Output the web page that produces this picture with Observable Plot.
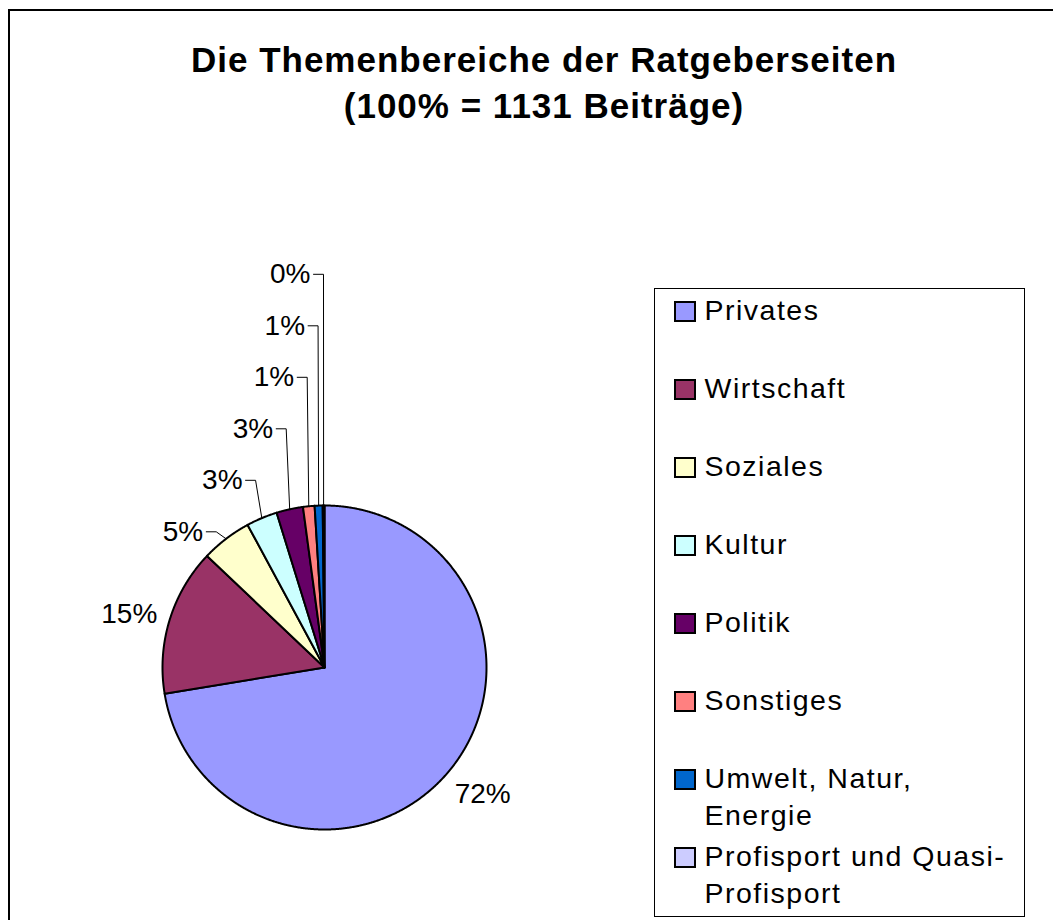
<!DOCTYPE html>
<html><head><meta charset="utf-8">
<script src="https://cdn.jsdelivr.net/npm/d3@7"></script>
<script src="https://cdn.jsdelivr.net/npm/@observablehq/plot@0.6"></script>
<style>
body{margin:0;background:#fff;font-family:"Liberation Sans",Arial,sans-serif;}
#page{position:relative;width:1053px;height:920px;overflow:hidden;background:#fff;}
#frame{position:absolute;left:8px;top:9px;width:1050px;height:920px;border-top:2px solid #000;border-left:2px solid #000;}
#title{position:absolute;left:44px;top:37px;width:1000px;text-align:center;font-weight:bold;font-size:35px;line-height:46px;letter-spacing:1px;color:#000;}
#chart{position:absolute;left:0;top:200px;}
#legend{position:absolute;left:654px;top:288px;width:371px;height:629px;box-sizing:border-box;border:1.5px solid #000;background:#fff;}
.item{position:absolute;left:18.5px;width:345px;font-size:28.5px;line-height:37px;letter-spacing:1.5px;color:#000;}
.sw{position:absolute;left:0;top:9px;width:22px;height:21px;box-sizing:border-box;border:2px solid #000;}
.lab{margin-left:31px;width:315px;}
</style>
</head><body>
<div id="page">
  <div id="frame"></div>
  <div id="title"></div>
  <div id="chart"></div>
  <div id="legend"></div>
</div>
<script>
const categories = ["Privates","Wirtschaft","Soziales","Kultur","Politik","Sonstiges","Umwelt, Natur, Energie","Profisport und Quasi-Profisport"];
const counts = [819,166,57,35,30,13,9,2];
const colors = ["#9999FF","#993366","#FFFFCC","#CCFFFF","#660066","#FF8080","#0066CC","#CCCCFF"];
const total = 1131;
const titleLines = ["Die Themenbereiche der Ratgeberseiten", "(100% = " + total + " Beiträge)"];

document.getElementById("title").innerHTML = titleLines.join("<br>");

// geometry (pixels)
const R = 162, cx = 324, cy = 467, W = 640, H = 700;

const arcs = d3.pie().sort(null).value(d => d)(counts);

// slice polygons in unit-radius coordinates
const slicePts = [];
arcs.forEach((a, i) => {
  const name = categories[i];
  slicePts.push({x: 0, y: 0, name});
  const n = Math.max(2, Math.ceil((a.endAngle - a.startAngle) / 0.004) + 1);
  for (let k = 0; k < n; k++) {
    const t = a.startAngle + (a.endAngle - a.startAngle) * k / (n - 1);
    slicePts.push({x: Math.sin(t), y: -Math.cos(t), name});
  }
  slicePts.push({x: 0, y: 0, name});
});

// labels and leader lines
const bigLabels = [], smallLabels = [], leaders = [];
let prevY = null;
arcs.forEach((a, i) => {
  const m = (a.startAngle + a.endAngle) / 2;
  const ax = Math.sin(m), ay = -Math.cos(m);
  const share = counts[i] / total;
  const text = Math.round(share * 100) + "%";
  if (share >= 0.1) {
    const mm = m - 0.03;
    bigLabels.push({x: 1.25 * Math.sin(mm), y: -1.25 * Math.cos(mm), text});
  } else {
    let ly = ay - 7 / R;
    if (prevY !== null) ly = Math.min(ly, prevY - 51.5 / R);
    prevY = ly;
    const ex = 1.1 * ax;
    leaders.push({x: ex - 10 / R, y: ly, id: i}, {x: ex, y: ly, id: i}, {x: ax, y: ay, id: i});
    smallLabels.push({x: ex - 13 / R, y: ly, text});
  }
});

const chart = Plot.plot({
  width: W, height: H,
  margin: 0,
  style: {fontFamily: "'Liberation Sans', Arial, sans-serif", background: "transparent"},
  x: {domain: [-cx / R, (W - cx) / R], range: [0, W], axis: null},
  y: {domain: [-cy / R, (H - cy) / R], range: [0, H], axis: null},
  color: {domain: categories, range: colors},
  marks: [
    Plot.line(slicePts, {x: "x", y: "y", z: "name", fill: "name", stroke: "#000", strokeWidth: 2, strokeLinejoin: "round", curve: "linear"}),
    Plot.line(leaders, {x: "x", y: "y", z: "id", stroke: "#000", strokeWidth: 1, curve: "linear"}),
    Plot.text(bigLabels, {x: "x", y: "y", text: "text", fontSize: 28, fill: "#000", textAnchor: "middle", lineAnchor: "middle"}),
    Plot.text(smallLabels, {x: "x", y: "y", text: "text", fontSize: 28, fill: "#000", textAnchor: "end", lineAnchor: "middle"})
  ]
});
document.getElementById("chart").appendChild(chart);

// legend
const legend = document.getElementById("legend");
categories.forEach((c, i) => {
  const item = document.createElement("div");
  item.className = "item";
  item.style.top = (3.3 + i * 78) + "px";
  const sw = document.createElement("div");
  sw.className = "sw";
  sw.style.background = colors[i];
  const lab = document.createElement("div");
  lab.className = "lab";
  lab.textContent = c;
  item.appendChild(sw);
  item.appendChild(lab);
  legend.appendChild(item);
});
</script>
</body></html>
